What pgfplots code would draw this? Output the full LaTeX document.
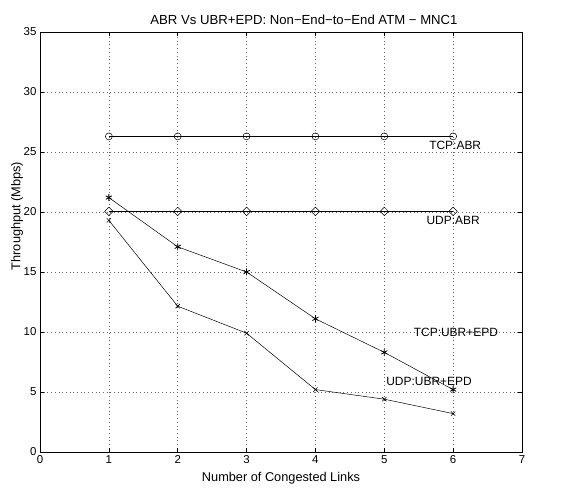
\documentclass[border=0pt]{standalone}
\usepackage{fontspec}
\setmainfont{Liberation Sans}
\usepackage{pgfplots}
\pgfplotsset{compat=1.18}
\begin{document}
\begin{tikzpicture}
\begin{axis}[
  name=ax,
  scale only axis,
  width=482bp, height=420bp,
  xmin=0, xmax=7, ymin=0, ymax=35,
  xtick={0,1,...,7}, ytick={0,5,...,35},
  tick align=inside,
  major tick length=4bp,
  xtick pos=both, ytick pos=both,
  grid=major,
  major grid style={dash pattern=on 0.5bp off 3.2bp, black!60, line width=0.5pt},
  axis line style={line width=0.5pt},
  tick style={line width=0.5pt, black},
  /pgf/number format/assume math mode=true,
  ticklabel style={font=\fontsize{11.5}{13}\selectfont},
  clip=false,
]
\addplot[black, line width=0.5pt, mark=o, mark size=3.5bp, mark options={line width=0.5pt}]
  coordinates {(1,26.3) (2,26.3) (3,26.3) (4,26.3) (5,26.3) (6,26.3)};
\addplot[black, line width=0.5pt, mark=square, mark size=3bp, mark options={line width=0.5pt, rotate=45}]
  coordinates {(1,20.05) (2,20.05) (3,20.05) (4,20.05) (5,20.05) (6,20.05)};
\addplot[black, line width=0.5pt, mark=asterisk, mark size=3.5bp, mark options={line width=0.8pt}]
  coordinates {(1,21.2) (2,17.1) (3,15.0) (4,11.1) (5,8.3) (6,5.2)};
\addplot[black, line width=0.5pt, mark=x, mark size=3bp, mark options={line width=0.6pt}]
  coordinates {(1,19.3) (2,12.15) (3,9.9) (4,5.2) (5,4.4) (6,3.2)};
\node[font=\fontsize{12}{14}\selectfont] at (axis cs:6.03,25.55) {TCP:ABR};
\node[font=\fontsize{12}{14}\selectfont] at (axis cs:6.0,19.3) {UDP:ABR};
\node[font=\fontsize{12}{14}\selectfont] at (axis cs:6.04,9.97) {TCP:UBR+EPD};
\node[font=\fontsize{12}{14}\selectfont] at (axis cs:5.65,5.87) {UDP:UBR+EPD};
\end{axis}
\node[font=\fontsize{13.2}{15}\selectfont] at ([xshift=264bp,yshift=432bp]ax.south west) {ABR Vs UBR+EPD: Non−End−to−End ATM − MNC1};
\node[font=\fontsize{12.8}{15}\selectfont] at ([xshift=241bp,yshift=-26bp]ax.south west) {Number of Congested Links};
\node[font=\fontsize{12.8}{15}\selectfont, rotate=90] at ([xshift=-23bp,yshift=236bp]ax.south west) {Throughput (Mbps)};
\path[use as bounding box] ([xshift=-40bp,yshift=-33bp]ax.south west) rectangle ([xshift=537bp,yshift=452bp]ax.south west);
\end{tikzpicture}
\end{document}
